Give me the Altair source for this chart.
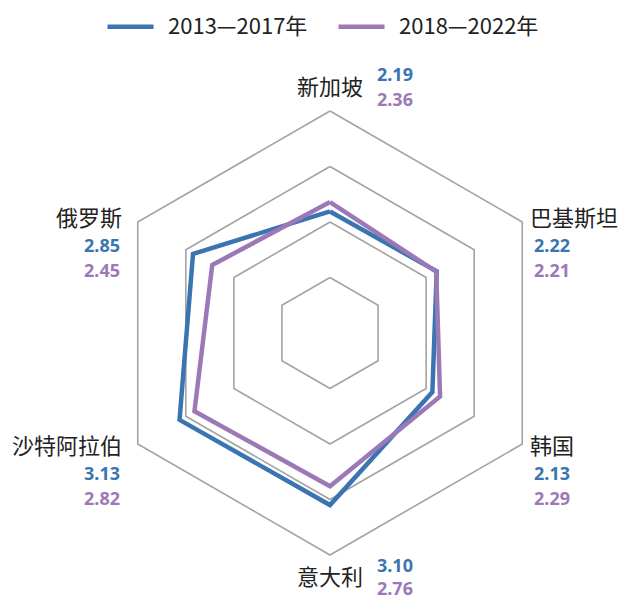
import math
import altair as alt
import pandas as pd

# ---- data ----
categories = ["新加坡", "巴基斯坦", "韩国", "意大利", "沙特阿拉伯", "俄罗斯"]
series_names = ["2013—2017年", "2018—2022年"]
values_2013_2017 = [2.19, 2.22, 2.13, 3.10, 3.13, 2.85]
values_2018_2022 = [2.36, 2.21, 2.29, 2.76, 2.82, 2.45]
grid_levels = [1, 2, 3, 4]

BLUE = "#3a75b1"
PURPLE = "#9c79b6"
GRID = "#a3a3a3"
TEXT = "#222222"
CJK = "Noto Sans CJK SC"
NUMFONT = "Noto Sans"

n = len(categories)
angles = [math.pi / 2 - 2 * math.pi * i / n for i in range(n)]
rmax = max(grid_levels)

# polygons of the two series
rows = []
for name, vals in zip(series_names, [values_2013_2017, values_2018_2022]):
    for k in range(n + 1):
        i = k % n
        rows.append(dict(series=name, order=k,
                         x=vals[i] * math.cos(angles[i]),
                         y=vals[i] * math.sin(angles[i])))
poly = pd.DataFrame(rows)

# grid hexagons
grows = []
for lv in grid_levels:
    for k in range(n + 1):
        i = k % n
        grows.append(dict(level=lv, order=k,
                          x=lv * math.cos(angles[i]),
                          y=lv * math.sin(angles[i])))
grid = pd.DataFrame(grows)

# labels
lrows = []
for i, cat in enumerate(categories):
    c, s = math.cos(angles[i]), math.sin(angles[i])
    if abs(c) < 1e-6:
        pos = "top" if s > 0 else "bottom"
        r = rmax * 1.105
    else:
        pos = "right" if c > 0 else "left"
        r = rmax * 1.03
    lrows.append(dict(cat=cat, pos=pos, x=r * c, y=r * s,
                      v1=f"{values_2013_2017[i]:.2f}",
                      v2=f"{values_2018_2022[i]:.2f}"))
labels = pd.DataFrame(lrows)

# ---- scales ----
PX = 55.5
W, H = 611, 592
CX, CY = 322, 325
xs = alt.Scale(domain=[-CX / PX, (W - CX) / PX], nice=False, zero=False)
ys = alt.Scale(domain=[-(H - CY) / PX, CY / PX], nice=False, zero=False)
X = lambda: alt.X("x:Q", scale=xs, axis=None)
Y = lambda: alt.Y("y:Q", scale=ys, axis=None)

grid_layer = alt.Chart(grid).mark_line(color=GRID, strokeWidth=1.6).encode(
    x=X(), y=Y(), detail="level:N", order="order:Q")

series_layer = alt.Chart(poly).mark_line(strokeWidth=4.5, strokeJoin="miter").encode(
    x=X(), y=Y(), order="order:Q",
    color=alt.Color("series:N",
                    scale=alt.Scale(domain=series_names, range=[BLUE, PURPLE]),
                    legend=alt.Legend(orient="none", legendX=97, legendY=-7,
                                      direction="horizontal", title=None,
                                      symbolType="stroke", symbolSize=2116,
                                      symbolStrokeWidth=4.5,
                                      labelFontSize=22, labelFont=CJK,
                                      labelColor=TEXT, labelOffset=12,
                                      columnPadding=21, padding=0)))

base = alt.Chart(labels)


def cat_text(pos, align, dx, dy):
    return base.transform_filter(alt.datum.pos == pos).mark_text(
        font=CJK, fontSize=22, color=TEXT, align=align, baseline="middle",
        dx=dx, dy=dy).encode(x=X(), y=Y(), text="cat:N")


def val_text(pos, field, color, align, dx, dy):
    return base.transform_filter(alt.datum.pos == pos).mark_text(
        font=NUMFONT, fontSize=18, fontWeight="bold", color=color, align=align,
        baseline="middle", dx=dx, dy=dy).encode(x=X(), y=Y(), text=f"{field}:N")


text_layers = [
    cat_text("top", "center", 0, 0),
    val_text("top", "v1", BLUE, "left", 47, -12),
    val_text("top", "v2", PURPLE, "left", 47, 13),
    cat_text("bottom", "center", 0, 0),
    val_text("bottom", "v1", BLUE, "left", 47, -11),
    val_text("bottom", "v2", PURPLE, "left", 47, 12),
    cat_text("right", "left", 2, 0),
    val_text("right", "v1", BLUE, "left", 6, 28),
    val_text("right", "v2", PURPLE, "left", 6, 53),
    cat_text("left", "right", -10, 0),
    val_text("left", "v1", BLUE, "right", -12, 28),
    val_text("left", "v2", PURPLE, "right", -12, 53),
]

chart = alt.layer(grid_layer, series_layer, *text_layers).properties(
    width=W, height=H, padding=0,
    autosize=alt.AutoSizeParams(type="none"),
    background="white",
).configure_view(stroke=None)

chart.save("out.html", embed_options={"renderer": "svg", "actions": False})
